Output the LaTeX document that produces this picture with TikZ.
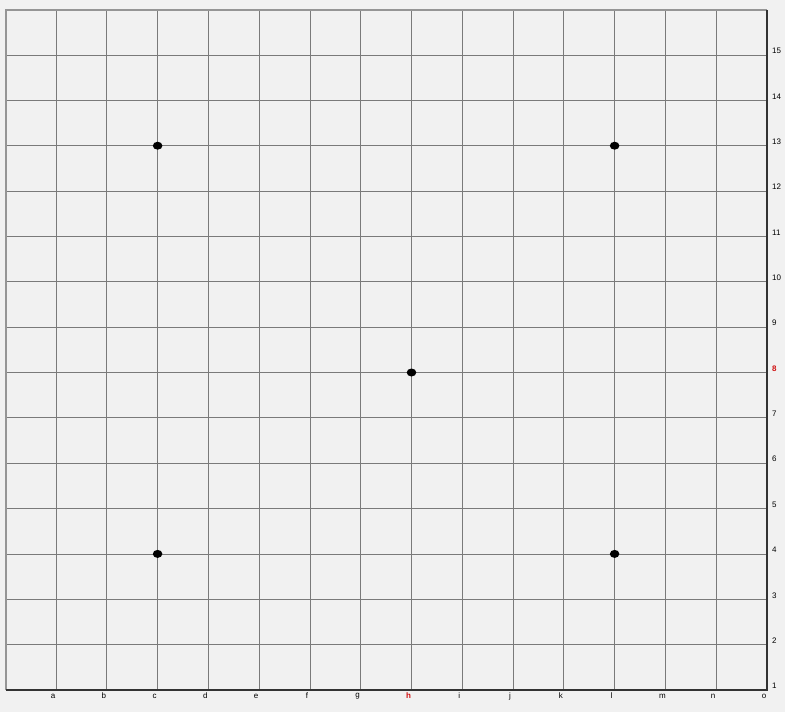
\documentclass[tikz,border=0pt]{standalone}
\usepackage{fontspec}
\setmainfont{Liberation Sans}
\usetikzlibrary{shapes.geometric}
\definecolor{bg}{HTML}{F1F1F1}
\definecolor{gridc}{HTML}{7A7A7A}
\definecolor{lightedge}{HTML}{959595}
\definecolor{darkedge}{HTML}{333333}
\definecolor{hl}{HTML}{D01010}
\begin{document}
\begin{tikzpicture}[x=1pt,y=-1pt,
  gridline/.style={draw=gridc,line width=0.8pt},
  topleft/.style={draw=lightedge,line width=1.8pt},
  botright/.style={draw=darkedge,line width=1.1pt},
  coordlabel/.style={inner sep=0pt,font=\fontsize{8}{9}\selectfont,text=black},
  hilabel/.style={coordlabel,text=hl,font=\fontsize{8}{9}\selectfont\bfseries},
  starpt/.style={ellipse,fill=black,minimum width=9.6pt,minimum height=8pt,inner sep=0pt}]
\fill[bg] (0,0) rectangle (785,712);
\useasboundingbox (0,0) rectangle (785,712);
\pgfmathsetmacro{\dx}{50.786}
\pgfmathsetmacro{\dy}{45.357}
% corners
\coordinate (tl) at (5.8,9.8);
\coordinate (tr) at (767,9.8);
\coordinate (bl) at (5.8,690);
\coordinate (br) at (767,690);
% interior vertical lines (columns a..n)
\foreach \i in {1,...,14}{
  \pgfmathsetmacro{\xx}{56+(\i-1)*\dx}
  \coordinate (vt\i) at (\xx,9.8);
  \coordinate (vb\i) at (\xx,690);
  \draw[gridline] (vt\i) -- (vb\i);
}
% interior horizontal lines (rows 2..15)
\foreach \r in {2,...,15}{
  \pgfmathsetmacro{\yy}{690-(\r-1)*\dy}
  \coordinate (hl\r) at (5.8,\yy);
  \coordinate (hr\r) at (767,\yy);
  \draw[gridline] (hl\r) -- (hr\r);
}
% borders
\draw[topleft] (bl) -- (tl) -- (tr);
\draw[botright] (tr) -- (br) -- (bl);
% column labels
\foreach \l [count=\i] in {a,b,c,d,e,f,g,h,i,j,k,l,m,n,o}{
  \pgfmathsetmacro{\xx}{53+(\i-1)*\dx}
  \ifnum\i=8
    \node[hilabel] (col-\l) at (\xx,696) {\l};
  \else
    \node[coordlabel] (col-\l) at (\xx,696) {\l};
  \fi
}
% row labels
\foreach \r in {1,...,15}{
  \pgfmathsetmacro{\yy}{686-(\r-1)*\dy}
  \ifnum\r=8
    \node[hilabel,anchor=west] (row-\r) at (772,\yy) {\r};
  \else
    \node[coordlabel,anchor=west] (row-\r) at (772,\yy) {\r};
  \fi
}
% star points
\node[starpt] (c13) at (157.6,145.7) {};
\node[starpt] (l13) at (614.6,145.7) {};
\node[starpt] (h8) at (411.5,372.5) {};
\node[starpt] (c4) at (157.6,553.9) {};
\node[starpt] (l4) at (614.6,553.9) {};
\end{tikzpicture}
\end{document}
